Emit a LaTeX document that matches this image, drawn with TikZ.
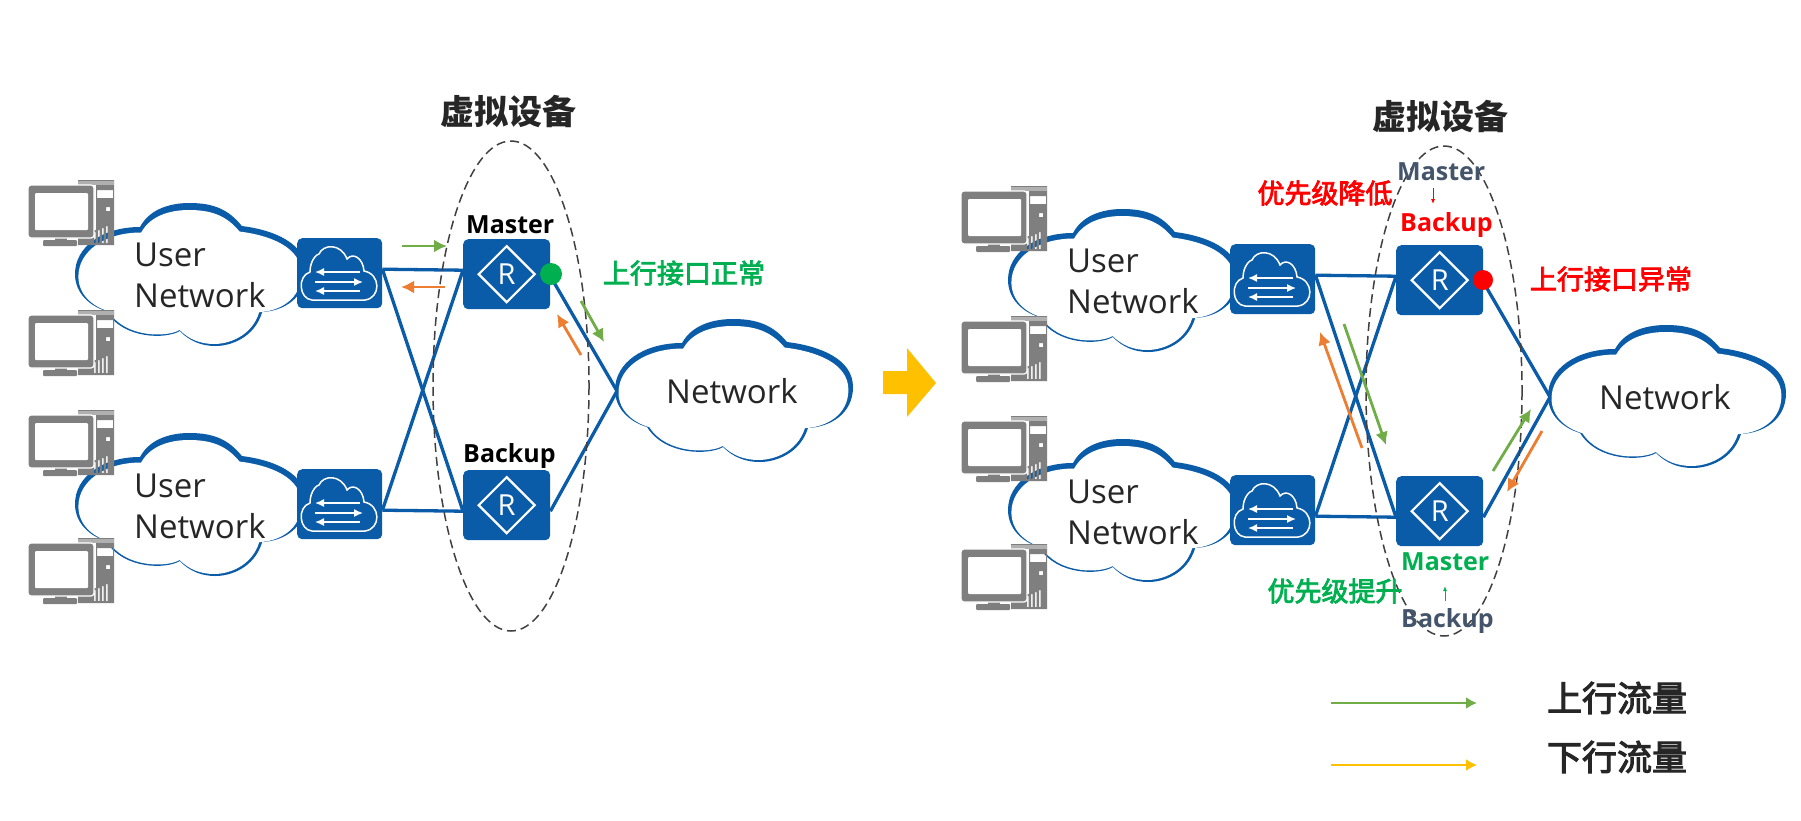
\documentclass[tikz,border=0pt]{standalone}
\usepackage{fontspec}
\setmainfont{Open Sans}
\newfontfamily\cjk{Noto Sans CJK SC}
\newfontfamily\cjkm[FakeBold=3]{Noto Sans CJK SC}
\usetikzlibrary{arrows.meta,calc}
\definecolor{hw}{HTML}{0B5CA8}
\definecolor{pcg}{HTML}{7F7F7F}
\definecolor{pcl}{HTML}{B0B0B0}
\definecolor{flowg}{HTML}{70AD47}
\definecolor{flowo}{HTML}{ED7D31}
\definecolor{amber}{HTML}{FFC000}
\definecolor{okg}{HTML}{00B050}
\definecolor{slate}{HTML}{44546A}
\definecolor{ink}{HTML}{262626}
\tikzset{
  devbox/.style={fill=hw,rounded corners=5pt,inner sep=0pt,anchor=north west,minimum height=70pt},
  swbox/.style={devbox,minimum width=85pt},
  rtbox/.style={devbox,minimum width=87pt},
  link/.style={draw=hw,line width=3.3pt},
  netxt/.style={text=ink,inner sep=0pt,anchor=base west,font=\fontsize{33}{40}\selectfont},
  role/.style={inner sep=0pt,anchor=base west,font=\bfseries\fontsize{25}{30}\selectfont},
  cnb/.style={inner sep=0pt,font=\cjkm\fontsize{27}{32}\selectfont},
  cnhead/.style={inner sep=0pt,text=ink,font=\cjk\bfseries\fontsize{34}{40}\selectfont},
  cnleg/.style={inner sep=0pt,text=ink,font=\cjkm\fontsize{35}{40}\selectfont},
  vdev/.style={draw=black!75,line width=1.5pt,dash pattern=on 9pt off 5pt},
  flowarrow/.style={line width=2.8pt,-{Latex[length=13pt,width=13pt]}},
  legarrow/.style={line width=2.8pt,-{Latex[length=11pt,width=12pt]}},
  thinarrow/.style={line width=1pt,-{Latex[length=5pt,width=4pt]}},
  whiteline/.style={draw=white,line width=1.5pt},
  whitearrow/.style={draw=white,line width=1.5pt,-{Latex[length=9pt,width=8pt]}},
}
\newcommand{\cloudpath}{(0,71) .. controls (0,44) and (28,24) .. (67,24)
  .. controls (78,4) and (102,0) .. (118,0)
  .. controls (142,0) and (158,6) .. (172,23)
  .. controls (205,27) and (238,40) .. (238,68)
  .. controls (238,95) and (215,108) .. (193,109)
  .. controls (185,135) and (160,143) .. (145,143)
  .. controls (130,143) and (118,138) .. (108,128)
  .. controls (95,136) and (50,137) .. (32,108)
  .. controls (15,103) and (0,90) .. (0,71) -- cycle}
\newcommand{\bigcloud}[3]{%
  \begin{scope}[shift={(#1,#2)},xscale=#3]
    \fill[hw] \cloudpath;
    \fill[white,shift={(3.5,7)},xscale=.966,yscale=.937] \cloudpath;
  \end{scope}}
\newcommand{\pc}[2]{%
  \begin{scope}[shift={(#1,#2)}]
    \fill[pcg,even odd rule] (50,0) rectangle (86,65)
      (69,10) rectangle (85,18) (78,27) rectangle (82,31)
      (66,52) rectangle (67.5,63) (70,50) rectangle (71.5,63)
      (74,48) rectangle (75.5,63) (78,46) rectangle (79.5,63);
    \fill[pcl] (50,1) rectangle (86,5);
    \fill[white] (64,5) rectangle (68,50);
    \fill[pcg] (27,57) rectangle (39,61);
    \fill[pcg,rounded corners=1pt] (15,60) rectangle (49,66);
    \filldraw[fill=pcg,draw=white,line width=1.2pt,rounded corners=3pt] (0,5) rectangle (66,58);
    \fill[white,rounded corners=1pt] (7,13) rectangle (60,50);
  \end{scope}}
\newcommand{\swdev}[3]{%
  \node[swbox] (#1) at (#2,#3) {};
  \begin{scope}[shift={(#2,#3)}]
    \draw[whiteline] (15,62) .. controls (2,61) and (0,38) .. (13,34)
      .. controls (13,22) and (20,16) .. (22,16)
      .. controls (26,6) and (44,5) .. (50,21)
      .. controls (56,14) and (66,20) .. (67,33)
      .. controls (84,36) and (84,60) .. (68,62) -- cycle;
    \coordinate (#1a1) at (63,34); \coordinate (#1b1) at (18,34);
    \coordinate (#1a2) at (18,44); \coordinate (#1b2) at (66,44);
    \coordinate (#1a3) at (63,53); \coordinate (#1b3) at (18,53);
    \draw[whitearrow] (#1a1) -- (#1b1);
    \draw[whitearrow] (#1a2) -- (#1b2);
    \draw[whitearrow] (#1a3) -- (#1b3);
  \end{scope}}
\newcommand{\rtdev}[3]{%
  \node[rtbox] (#1) at (#2,#3) {};
  \draw[white,line width=2.2pt,line join=miter] ([xshift=-28pt]#1.center) -- ([yshift=28pt]#1.center)
    -- ([xshift=28pt]#1.center) -- ([yshift=-28pt]#1.center) -- cycle;
  \node[inner sep=0pt,text=white,font=\fontsize{29}{30}\selectfont] (#1R) at (#1.center) {R};}
\newcommand{\flow}[6]{%
  \coordinate (#2s) at (#3,#5); \coordinate (#2e) at (#4,#6);
  \draw[flowarrow,draw=#1,color=#1] (#2s) -- (#2e);}
\newcommand{\group}[3]{%
  \begin{scope}[shift={(#2,#3)}]
    \bigcloud{75}{203}{.97}
    \bigcloud{75}{433}{.97}
    \pc{28}{180}\pc{28}{310}\pc{28}{410}\pc{28}{538}
    \node[netxt] (#1ua) at (134,266) {User};
    \node[netxt] (#1ub) at (134,307) {Network};
    \node[netxt] (#1uc) at (134,497) {User};
    \node[netxt] (#1ud) at (134,538) {Network};
    \bigcloud{615}{319}{1}
    \node[netxt] (#1net) at (666,403) {Network};
    \coordinate (#1tip) at (617,391);
    \swdev{#1s1}{297}{238}
    \swdev{#1s2}{297}{469}
    \rtdev{#1r1}{463}{239}
    \rtdev{#1r2}{463}{470}
    \draw[link] ([yshift=4pt]#1s1.east) -- ([yshift=4pt]#1r1.west);
    \draw[link] ([yshift=-6pt]#1s2.east) -- ([yshift=-6pt]#1r2.west);
    \draw[link] ([yshift=4pt]#1s1.east) -- ([yshift=-6pt]#1r2.west);
    \draw[link] ([yshift=-6pt]#1s2.east) -- ([yshift=4pt]#1r1.west);
    \draw[link] ([yshift=-2pt]#1r1.east) -- (#1tip);
    \draw[link] ([yshift=-6pt]#1r2.east) -- (#1tip);
  \end{scope}}
\begin{document}
\begin{tikzpicture}[x=1pt,y=-1pt]
\useasboundingbox (0,0) rectangle (1801,820);
\fill[white] (0,0) rectangle (1801,820);
\group{L}{0}{0}
\group{R}{933}{6}
% left
\draw[vdev] (511,386) ellipse [x radius=78,y radius=245];
\node[cnhead] (h1) at (508,111) {虚拟设备};
\node[role,text=black] (m1) at (466,233) {Master};
\node[role,text=black] (b1) at (463,462) {Backup};
\node[circle,fill=okg,inner sep=0pt,minimum size=22pt] (d1) at (551,274) {};
\node[cnb,text=okg] (s1) at (684,273) {上行接口正常};
\flow{flowg}{f1}{402}{447}{246}{246}
\flow{flowo}{f2}{445}{401}{287}{287}
\flow{flowg}{f3}{581}{604}{301}{342}
\flow{flowo}{f4}{581}{557}{355}{314}
% arrow
\fill[amber] (883,371) -- (907,371) -- (907,348) -- (936,383) -- (907,417) -- (907,394) -- (883,394) -- cycle;
% right
\draw[vdev] (1444,391) ellipse [x radius=78,y radius=245];
\node[cnhead] (h2) at (1440,116) {虚拟设备};
\node[role,text=slate] (m2) at (1397,180) {Master};
\coordinate (a1s) at (1433,188); \coordinate (a1e) at (1433,204);
\draw[thinarrow,draw=red,color=red] (a1s) -- (a1e);
\node[role,text=red] (b2) at (1400,231) {Backup};
\node[cnb,text=red] (t1) at (1325,193) {优先级降低};
\node[circle,fill=red,inner sep=0pt,minimum size=20pt] (d2) at (1483,280) {};
\node[cnb,text=red] (s2) at (1611,279) {上行接口异常};
\node[role,text=okg] (m3) at (1401,570) {Master};
\coordinate (a2s) at (1445,601); \coordinate (a2e) at (1445,586);
\draw[thinarrow,draw=okg,color=okg] (a2s) -- (a2e);
\node[role,text=slate] (b3) at (1401,627) {Backup};
\node[cnb,text=okg] (t2) at (1335,591) {优先级提升};
\flow{flowg}{f5}{1344}{1386}{324}{445}
\flow{flowo}{f6}{1362}{1320}{448}{332}
\flow{flowg}{f7}{1493}{1531}{471}{409}
\flow{flowo}{f8}{1542}{1507}{431}{492}
% legend
\coordinate (l1s) at (1331,703); \coordinate (l1e) at (1477,703);
\coordinate (l2s) at (1331,765); \coordinate (l2e) at (1477,765);
\draw[legarrow,draw=flowg,color=flowg] (l1s) -- (l1e);
\draw[legarrow,draw=amber,color=amber] (l2s) -- (l2e);
\node[cnleg] (lt1) at (1617,698) {上行流量};
\node[cnleg] (lt2) at (1617,757) {下行流量};
\end{tikzpicture}
\end{document}
